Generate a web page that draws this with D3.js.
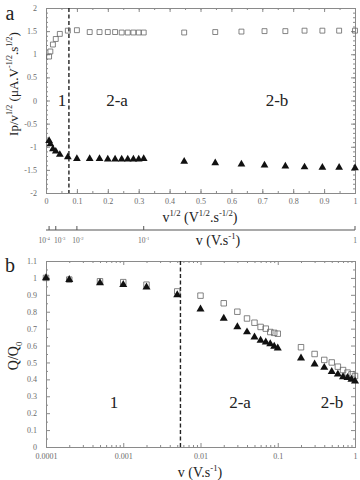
<!DOCTYPE html>
<html>
<head>
<meta charset="utf-8">
<script src="https://cdn.jsdelivr.net/npm/d3@7"></script>
<style>
  body { margin: 0; background: #fff; }
  text { font-family: "Liberation Serif", "DejaVu Serif", serif; }
</style>
</head>
<body>
<div id="chart"></div>
<script>
// scan rates v (V/s), shared by both panels
var vRates = [0.0001, 0.0002, 0.0005, 0.001, 0.002, 0.005,
              0.01, 0.02, 0.03, 0.04, 0.05, 0.06, 0.07, 0.08, 0.09, 0.1,
              0.2, 0.3, 0.4, 0.5, 0.6, 0.7, 0.8, 0.9, 1];

// panel a : Ip / v^1/2
var ipSquares = [0.95, 1.06, 1.21, 1.33, 1.44, 1.51, 1.52,
                 1.48, 1.48, 1.48, 1.48, 1.47, 1.47, 1.47, 1.47, 1.47,
                 1.47, 1.48, 1.49, 1.50, 1.50, 1.51, 1.51, 1.51, 1.51];
var ipTriangles = [-0.87, -0.94, -1.05, -1.10, -1.17, -1.22, -1.26,
                   -1.26, -1.26, -1.27, -1.27, -1.27, -1.27, -1.27, -1.27, -1.26,
                   -1.32, -1.35, -1.38, -1.40, -1.42, -1.44, -1.45, -1.45, -1.46];

// panel b : Q / Q0
var qSquares = [1.0, 0.99, 0.98, 0.975, 0.96, 0.92, 0.895,
                0.85, 0.80, 0.76, 0.735, 0.71, 0.70, 0.68, 0.675, 0.67,
                0.59, 0.55, 0.515, 0.50, 0.475, 0.455, 0.44, 0.43, 0.42];
var qTriangles = [1.0, 0.99, 0.97, 0.96, 0.945, 0.90, 0.815,
                  0.76, 0.71, 0.68, 0.65, 0.63, 0.62, 0.61, 0.595, 0.585,
                  0.525, 0.49, 0.47, 0.445, 0.43, 0.415, 0.41, 0.40, 0.39];

// boundary between regime 1 and 2 (V/s)
var vLimit = 0.0055;

// tick values
var xTicksA = [0, 0.1, 0.2, 0.3, 0.4, 0.5, 0.6, 0.7, 0.8, 0.9, 1];
var yTicksA = [-2, -1.5, -1, -0.5, 0, 0.5, 1, 1.5, 2];
var vTicksA = [0.0001, 0.001, 0.01, 0.1, 1];
var vTickExp = ["-4", "-3", "-2", "-1", ""];
var xTicksB = [0.0001, 0.001, 0.01, 0.1, 1];
var yTicksB = [0, 0.1, 0.2, 0.3, 0.4, 0.5, 0.6, 0.7, 0.8, 0.9, 1, 1.1];

var axisColor = "#8a8a8a";
var tickTextColor = "#6a6a6a";

var svg = d3.select("#chart").append("svg")
    .attr("width", 360)
    .attr("height", 480);

// text with superscripts / subscripts: parts = [[text, "sup"|"sub"|null], ...]
function rich(sel, parts, fs) {
  var cur = 0;
  parts.forEach(function(p) {
    var off = p[1] == "sup" ? -0.45 * fs : (p[1] == "sub" ? 0.3 * fs : 0);
    sel.append("tspan")
       .attr("dy", off - cur)
       .attr("font-size", p[1] ? fs * 0.62 : fs)
       .text(p[0]);
    cur = off;
  });
  return sel;
}

function styleAxis(g) {
  g.select(".domain").attr("stroke", axisColor);
  g.selectAll(".tick line").attr("stroke", axisColor);
  g.selectAll(".tick text")
   .attr("fill", tickTextColor)
   .attr("font-size", 8)
   .attr("font-family", "Liberation Serif, serif");
}

// ---------------- panel a ----------------
var xA = d3.scaleLinear().domain([0, 1]).range([46, 355]);
var yA = d3.scaleLinear().domain([-2, 2]).range([193, 8]);

var gA = svg.append("g");

// minor ticks
gA.append("g").attr("transform", "translate(0,193)")
  .call(d3.axisBottom(xA).tickValues(d3.range(0, 1.001, 0.05)).tickSize(-2).tickFormat(""))
  .call(styleAxis);
gA.append("g").attr("transform", "translate(0,8)")
  .call(d3.axisTop(xA).tickValues(d3.range(0, 1.001, 0.05)).tickSize(-2).tickFormat(""))
  .call(styleAxis);
gA.append("g").attr("transform", "translate(46,0)")
  .call(d3.axisLeft(yA).tickValues(d3.range(-2, 2.001, 0.1)).tickSize(-2).tickFormat(""))
  .call(styleAxis);
gA.append("g").attr("transform", "translate(355,0)")
  .call(d3.axisRight(yA).tickValues(d3.range(-2, 2.001, 0.1)).tickSize(-2).tickFormat(""))
  .call(styleAxis);

// major ticks
gA.append("g").attr("transform", "translate(0,193)")
  .call(d3.axisBottom(xA).tickValues(xTicksA).tickSize(-4).tickPadding(5)
        .tickFormat(function(d) { return String(+d.toFixed(1)); }))
  .call(styleAxis);
gA.append("g").attr("transform", "translate(0,8)")
  .call(d3.axisTop(xA).tickValues(xTicksA).tickSize(-4).tickFormat(""))
  .call(styleAxis);
gA.append("g").attr("transform", "translate(46,0)")
  .call(d3.axisLeft(yA).tickValues(yTicksA).tickSize(-4).tickPadding(9)
        .tickFormat(function(d) { return String(d); }))
  .call(styleAxis);
gA.append("g").attr("transform", "translate(355,0)")
  .call(d3.axisRight(yA).tickValues(yTicksA).tickSize(-4).tickFormat(""))
  .call(styleAxis);

// dashed limit
gA.append("line")
  .attr("x1", xA(Math.sqrt(vLimit))).attr("x2", xA(Math.sqrt(vLimit)))
  .attr("y1", yA(2)).attr("y2", yA(-2))
  .attr("stroke", "#222").attr("stroke-width", 1.4)
  .attr("stroke-dasharray", "4,2.5");

var sq = d3.symbol().type(d3.symbolSquare).size(24);
var tri = d3.symbol().type(d3.symbolTriangle).size(26);

gA.selectAll("path.sqA").data(vRates).enter().append("path")
  .attr("class", "sqA")
  .attr("d", sq)
  .attr("transform", function(d, i) { return "translate(" + xA(Math.sqrt(d)) + "," + yA(ipSquares[i]) + ")"; })
  .attr("fill", "none").attr("stroke", "#666").attr("stroke-width", 0.8);

gA.selectAll("path.trA").data(vRates).enter().append("path")
  .attr("class", "trA")
  .attr("d", tri)
  .attr("transform", function(d, i) { return "translate(" + xA(Math.sqrt(d)) + "," + yA(ipTriangles[i]) + ")"; })
  .attr("fill", "#111");

// secondary v axis (sqrt scale)
var vA = d3.scaleSqrt().domain([0, 1]).range([46, 355]);
svg.append("line").attr("x1", 46).attr("x2", 355).attr("y1", 230).attr("y2", 230)
  .attr("stroke", "#555").attr("stroke-width", 1.2);
svg.selectAll("line.vt").data(vTicksA).enter().append("line")
  .attr("class", "vt")
  .attr("x1", function(d) { return vA(d); }).attr("x2", function(d) { return vA(d); })
  .attr("y1", 230).attr("y2", 226)
  .attr("stroke", "#555");
// the first labels are crowded: nudge them apart a little
var vLabelShift = [-5, 4, 1, 0, 0];
vTicksA.forEach(function(d, i) {
  var t = svg.append("text")
    .attr("x", vA(d) + vLabelShift[i]).attr("y", 243)
    .attr("text-anchor", "middle")
    .attr("fill", tickTextColor);
  if (vTickExp[i] == "") rich(t, [["1", null]], 7.5);
  else rich(t, [["10", null], [vTickExp[i], "sup"]], 7.5);
});

// axis titles panel a
rich(svg.append("text").attr("x", 200).attr("y", 222).attr("text-anchor", "middle").attr("fill", "#222"),
  [["v", null], ["1/2", "sup"], [" (V", null], ["1/2", "sup"], [".s", null], ["-1/2", "sup"], [")", null]], 14);
rich(svg.append("text").attr("x", 218).attr("y", 245).attr("text-anchor", "middle").attr("fill", "#222"),
  [["v (V.s", null], ["-1", "sup"], [")", null]], 14);
rich(svg.append("text").attr("transform", "translate(18,84) rotate(-90)").attr("text-anchor", "middle").attr("fill", "#222"),
  [["Ip/v", null], ["1/2", "sup"], [" (\u03bcA.V", null], ["-1/2", "sup"], [".s", null], ["1/2", "sup"], [")", null]], 13);

// region labels panel a
svg.append("text").attr("x", 62).attr("y", 106).attr("text-anchor", "middle").attr("font-size", 17).attr("fill", "#222").text("1");
svg.append("text").attr("x", 117).attr("y", 106).attr("text-anchor", "middle").attr("font-size", 17).attr("fill", "#222").text("2-a");
svg.append("text").attr("x", 277).attr("y", 106).attr("text-anchor", "middle").attr("font-size", 17).attr("fill", "#222").text("2-b");
svg.append("text").attr("x", 10).attr("y", 20).attr("text-anchor", "middle").attr("font-size", 20).attr("fill", "#222").text("a");

// ---------------- panel b ----------------
var xB = d3.scaleLog().domain([0.0001, 1]).range([46, 355]);
var yB = d3.scaleLinear().domain([0, 1.1]).range([447, 261]);

var gB = svg.append("g");

var minorLog = [];
[0.0001, 0.001, 0.01, 0.1].forEach(function(dec) {
  for (var k = 2; k <= 9; k++) minorLog.push(dec * k);
});

gB.append("g").attr("transform", "translate(0,447)")
  .call(d3.axisBottom(xB).tickValues(minorLog).tickSize(-2).tickFormat(""))
  .call(styleAxis);
gB.append("g").attr("transform", "translate(0,261)")
  .call(d3.axisTop(xB).tickValues(minorLog).tickSize(-2).tickFormat(""))
  .call(styleAxis);
gB.append("g").attr("transform", "translate(46,0)")
  .call(d3.axisLeft(yB).tickValues(d3.range(0.05, 1.1, 0.1)).tickSize(-2).tickFormat(""))
  .call(styleAxis);
gB.append("g").attr("transform", "translate(355,0)")
  .call(d3.axisRight(yB).tickValues(d3.range(0.05, 1.1, 0.1)).tickSize(-2).tickFormat(""))
  .call(styleAxis);

gB.append("g").attr("transform", "translate(0,447)")
  .call(d3.axisBottom(xB).tickValues(xTicksB).tickSize(-4).tickPadding(6)
        .tickFormat(function(d) { return String(d); }))
  .call(styleAxis);
gB.append("g").attr("transform", "translate(0,261)")
  .call(d3.axisTop(xB).tickValues(xTicksB).tickSize(-4).tickFormat(""))
  .call(styleAxis);
gB.append("g").attr("transform", "translate(46,0)")
  .call(d3.axisLeft(yB).tickValues(yTicksB).tickSize(-4).tickPadding(9)
        .tickFormat(function(d) { return String(+d.toFixed(1)); }))
  .call(styleAxis);
gB.append("g").attr("transform", "translate(355,0)")
  .call(d3.axisRight(yB).tickValues(yTicksB).tickSize(-4).tickFormat(""))
  .call(styleAxis);

gB.append("line")
  .attr("x1", xB(vLimit)).attr("x2", xB(vLimit))
  .attr("y1", yB(1.1)).attr("y2", yB(0))
  .attr("stroke", "#222").attr("stroke-width", 1.4)
  .attr("stroke-dasharray", "4,2.5");

var sqB = d3.symbol().type(d3.symbolSquare).size(30);
var triB = d3.symbol().type(d3.symbolTriangle).size(28);

gB.selectAll("path.sqB").data(vRates).enter().append("path")
  .attr("class", "sqB")
  .attr("d", sqB)
  .attr("transform", function(d, i) { return "translate(" + xB(d) + "," + yB(qSquares[i]) + ")"; })
  .attr("fill", "none").attr("stroke", "#666").attr("stroke-width", 0.8);

gB.selectAll("path.trB").data(vRates).enter().append("path")
  .attr("class", "trB")
  .attr("d", triB)
  .attr("transform", function(d, i) { return "translate(" + xB(d) + "," + yB(qTriangles[i]) + ")"; })
  .attr("fill", "#111");

rich(svg.append("text").attr("x", 200).attr("y", 477).attr("text-anchor", "middle").attr("fill", "#222"),
  [["v (V.s", null], ["-1", "sup"], [")", null]], 14);
rich(svg.append("text").attr("transform", "translate(18,356) rotate(-90)").attr("text-anchor", "middle").attr("fill", "#222"),
  [["Q/Q", null], ["0", "sub"]], 14);

svg.append("text").attr("x", 114).attr("y", 408).attr("text-anchor", "middle").attr("font-size", 17).attr("fill", "#222").text("1");
svg.append("text").attr("x", 240).attr("y", 408).attr("text-anchor", "middle").attr("font-size", 17).attr("fill", "#222").text("2-a");
svg.append("text").attr("x", 332).attr("y", 408).attr("text-anchor", "middle").attr("font-size", 17).attr("fill", "#222").text("2-b");
svg.append("text").attr("x", 10).attr("y", 272).attr("text-anchor", "middle").attr("font-size", 20).attr("fill", "#222").text("b");
</script>
</body>
</html>
